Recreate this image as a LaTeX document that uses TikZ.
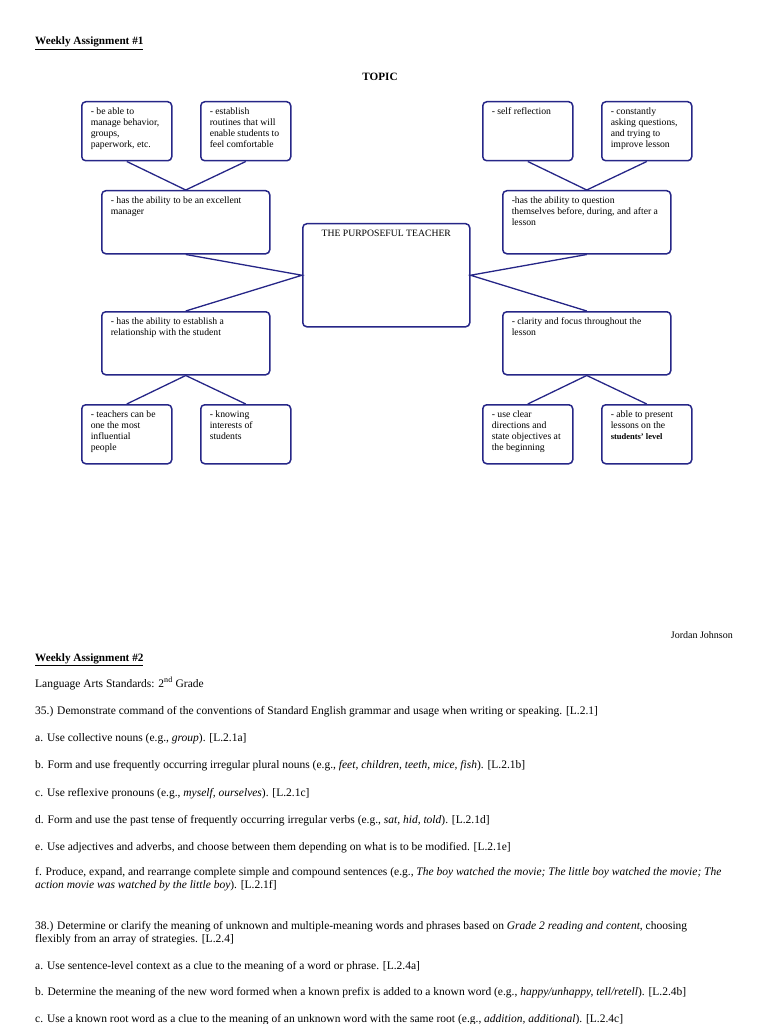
\documentclass[tikz,border=0pt]{standalone}
\usepackage{fontspec}
\setmainfont{Liberation Serif}
\definecolor{boxblue}{RGB}{38,38,135}
\newcommand{\bodyfont}{\fontsize{11.5}{13.4}\selectfont}
\newcommand{\boxfont}{\fontsize{9.7}{11}\selectfont}
\newcommand{\boxtxt}[3]{\parbox[t][#2][t]{#1}{\raggedright #3}}
\newcommand{\rowtxt}[1]{\parbox[t]{720pt}{\raggedright #1}}
\tikzset{
  bubble/.style={draw=boxblue, line width=1.5pt, rounded corners=4pt, anchor=north west, inner xsep=9pt, inner ysep=6pt, font=\boxfont},
  link/.style={draw=boxblue, line width=1.3pt},
  stdline/.style={anchor=base west, inner sep=0pt, font=\bodyfont},
  heading/.style={stdline, font=\fontsize{11.2}{13}\selectfont\bfseries},
}
\begin{document}
\begin{tikzpicture}[x=1pt,y=-1pt]
\useasboundingbox (0,0) rectangle (768,1024);
% headings
\node[heading] (hw1) at (35,45) {\underline{Weekly Assignment \#1}};
\node[heading, anchor=base] (topic) at (380,81) {TOPIC};
% centre
\node[bubble] (teacher) at (302,223) {\parbox[t][91pt][t]{149pt}{\centering THE PURPOSEFUL TEACHER}};
% upper left
\node[bubble] (mgr) at (101,190) {\boxtxt{150pt}{51pt}{- has the ability to be an excellent\\manager}};
\node[bubble] (behav) at (81,101) {\boxtxt{72pt}{47pt}{- be able to\\manage behavior,\\groups,\\paperwork, etc.}};
\node[bubble] (routine) at (200,101) {\boxtxt{72pt}{47pt}{- establish\\routines that will\\enable students to\\feel comfortable}};
% upper right
\node[bubble] (quest) at (502,190) {\boxtxt{150pt}{51pt}{-has the ability to question\\themselves before, during, and after a\\lesson}};
\node[bubble] (selfref) at (482,101) {\boxtxt{72pt}{47pt}{- self reflection}};
\node[bubble] (askq) at (601,101) {\boxtxt{72pt}{47pt}{- constantly\\asking questions,\\and trying to\\improve lesson}};
% lower left
\node[bubble] (rel) at (101,311) {\boxtxt{150pt}{51pt}{- has the ability to establish a\\relationship with the student}};
\node[bubble] (influ) at (81,404) {\boxtxt{72pt}{47pt}{- teachers can be\\one the most\\influential\\people}};
\node[bubble] (interest) at (200,404) {\boxtxt{72pt}{47pt}{- knowing\\interests of\\students}};
% lower right
\node[bubble] (clar) at (502,311) {\boxtxt{150pt}{51pt}{- clarity and focus throughout the\\lesson}};
\node[bubble] (direct) at (482,404) {\boxtxt{72pt}{47pt}{- use clear\\directions and\\state objectives at\\the beginning}};
\node[bubble] (level) at (601,404) {\boxtxt{72pt}{47pt}{- able to present\\lessons on the\\{\bfseries\fontsize{8.5}{11}\selectfont students' level}}};
% connectors
\draw[link] (behav.south) -- (mgr.north) -- (routine.south);
\draw[link] (selfref.south) -- (quest.north) -- (askq.south);
\draw[link] (mgr.south) -- (teacher.west) -- (rel.north);
\draw[link] (quest.south) -- (teacher.east) -- (clar.north);
\draw[link] (influ.north) -- (rel.south) -- (interest.north);
\draw[link] (direct.north) -- (clar.south) -- (level.north);
% second assignment
\node[stdline, anchor=base east, font=\fontsize{10}{12}\selectfont] (author) at (733,638) {Jordan Johnson};
\node[heading] (hw2) at (35,661) {\underline{Weekly Assignment \#2}};
\node[stdline] (lang) at (35,687) {Language Arts Standards: 2\textsuperscript{nd} Grade};
\node[stdline] (s35) at (35,714) {35.) Demonstrate command of the conventions of Standard English grammar and usage when writing or speaking. [L.2.1]};
\node[stdline] (s35a) at (35,741) {a. Use collective nouns (e.g., \textit{group}). [L.2.1a]};
\node[stdline] (s35b) at (35,768) {b. Form and use frequently occurring irregular plural nouns (e.g., \textit{feet, children, teeth, mice, fish}). [L.2.1b]};
\node[stdline] (s35c) at (35,796) {c. Use reflexive pronouns (e.g., \textit{myself, ourselves}). [L.2.1c]};
\node[stdline] (s35d) at (35,823) {d. Form and use the past tense of frequently occurring irregular verbs (e.g., \textit{sat, hid, told}). [L.2.1d]};
\node[stdline] (s35e) at (35,850) {e. Use adjectives and adverbs, and choose between them depending on what is to be modified. [L.2.1e]};
\node[stdline] (s35f) at (35,875) {\rowtxt{f. Produce, expand, and rearrange complete simple and compound sentences (e.g., \textit{The boy watched the movie; The little boy watched the movie; The}\\\textit{action movie was watched by the little boy}). [L.2.1f]}};
\node[stdline] (s38) at (35,929) {\rowtxt{38.) Determine or clarify the meaning of unknown and multiple-meaning words and phrases based on \textit{Grade 2 reading and content}, choosing\\flexibly from an array of strategies. [L.2.4]}};
\node[stdline] (s38a) at (35,969) {a. Use sentence-level context as a clue to the meaning of a word or phrase. [L.2.4a]};
\node[stdline] (s38b) at (35,995) {b. Determine the meaning of the new word formed when a known prefix is added to a known word (e.g., \textit{happy/unhappy, tell/retell}). [L.2.4b]};
\node[stdline] (s38c) at (35,1022) {c. Use a known root word as a clue to the meaning of an unknown word with the same root (e.g., \textit{addition, additional}). [L.2.4c]};
\end{tikzpicture}
\end{document}
